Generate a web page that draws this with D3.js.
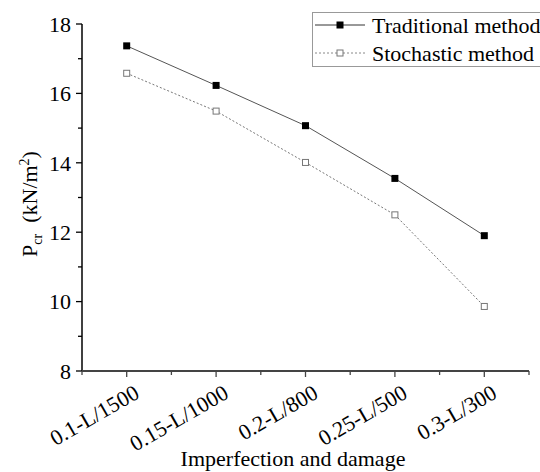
<!DOCTYPE html>
<html><head><meta charset="utf-8">
<script src="https://cdn.jsdelivr.net/npm/d3@7"></script>
<style>body{margin:0;background:#fff}svg{display:block}</style>
</head><body>
<script>
const categories = ["0.1-L/1500","0.15-L/1000","0.2-L/800","0.25-L/500","0.3-L/300"];
const traditional = [17.37, 16.23, 15.07, 13.55, 11.90];
const stochastic = [16.58, 15.49, 14.01, 12.50, 9.86];
const yTicks = [8,10,12,14,16,18];
const seriesNames = ["Traditional method","Stochastic method"];

const FONT="'Liberation Serif', 'Times New Roman', Times, serif";
const W=540,H=472;
const svg=d3.select("body").append("svg").attr("width",W).attr("height",H)
  .attr("font-family",FONT).style("font-family",FONT);
const x=d3.scaleLinear().domain([0.5,5.5]).range([82,529]);
const y=d3.scaleLinear().domain([8,18]).range([371,24]);

// y axis
const gy=svg.append("g").attr("transform","translate(82,0)");
gy.append("line").attr("y1",y(8)).attr("y2",y(18)).attr("stroke","#000").attr("stroke-width",1.5);
d3.range(8,18.01,1).forEach(v=>{
  const major=v%2===0;
  gy.append("line").attr("x1",major?-6:-4).attr("x2",0).attr("y1",y(v)).attr("y2",y(v)).attr("stroke","#000").attr("stroke-width",1.3);
});
yTicks.forEach(v=>{
  gy.append("text").attr("x",-11).attr("y",y(v)).attr("dy","0.35em").attr("text-anchor","end").attr("font-size",22).text(v);
});

// x axis
const gx=svg.append("g").attr("transform","translate(0,371)");
gx.append("line").attr("x1",x(0.5)).attr("x2",x(5.5)).attr("stroke","#444").attr("stroke-width",1.8);
d3.range(0.5,5.51,0.5).forEach(v=>{
  const major=Number.isInteger(v);
  gx.append("line").attr("x1",x(v)).attr("x2",x(v)).attr("y1",0).attr("y2",major?6:4).attr("stroke","#444").attr("stroke-width",1.3);
});
categories.forEach((c,i)=>{
  gx.append("text").attr("transform",`translate(${x(i+1)+14},26) rotate(-30)`).attr("text-anchor","end").attr("font-size",22).text(c);
});
svg.append("text").attr("x",293).attr("y",466).attr("text-anchor","middle").attr("font-size",22).text("Imperfection and damage");

// y label
const yl=svg.append("text").attr("transform","translate(37,204) rotate(-90)").attr("text-anchor","middle").attr("font-size",22);
yl.append("tspan").text("P");
yl.append("tspan").attr("font-size",14).attr("dy",5).text("cr");
yl.append("tspan").attr("dy",-5).text("\u2002(kN/m");
yl.append("tspan").attr("font-size",14).attr("dy",-8).text("2");
yl.append("tspan").attr("dy",8).text(")");

const line=d3.line().x((d,i)=>x(i+1)).y(d=>y(d));
svg.append("path").datum(traditional).attr("d",line).attr("fill","none").attr("stroke","#555").attr("stroke-width",1);
svg.append("path").datum(stochastic).attr("d",line).attr("fill","none").attr("stroke","#777").attr("stroke-width",1).attr("stroke-dasharray","2,2");
svg.selectAll(".mt").data(traditional).enter().append("rect").attr("x",(d,i)=>x(i+1)-3.5).attr("y",d=>y(d)-3.5).attr("width",7).attr("height",7).attr("fill","#000");
svg.selectAll(".ms").data(stochastic).enter().append("rect").attr("x",(d,i)=>x(i+1)-3).attr("y",d=>y(d)-3).attr("width",6).attr("height",6).attr("fill","#fff").attr("stroke","#777").attr("stroke-width",1);

// legend
const lg=svg.append("g");
lg.append("rect").attr("x",312.5).attr("y",12.5).attr("width",240).attr("height",54).attr("fill","#fff").attr("stroke","#999").attr("stroke-width",1);
lg.append("line").attr("x1",315).attr("x2",365).attr("y1",25).attr("y2",25).attr("stroke","#333").attr("stroke-width",1);
lg.append("rect").attr("x",336.5).attr("y",21.5).attr("width",7).attr("height",7).attr("fill","#000");
lg.append("line").attr("x1",315).attr("x2",365).attr("y1",53).attr("y2",53).attr("stroke","#888").attr("stroke-width",1).attr("stroke-dasharray","2,2");
lg.append("rect").attr("x",337).attr("y",50).attr("width",6).attr("height",6).attr("fill","#fff").attr("stroke","#777");
lg.append("text").attr("x",372).attr("y",25).attr("dy","0.35em").attr("font-size",22).text(seriesNames[0]);
lg.append("text").attr("x",372).attr("y",53).attr("dy","0.35em").attr("font-size",22).text(seriesNames[1]);
</script>
</body></html>
